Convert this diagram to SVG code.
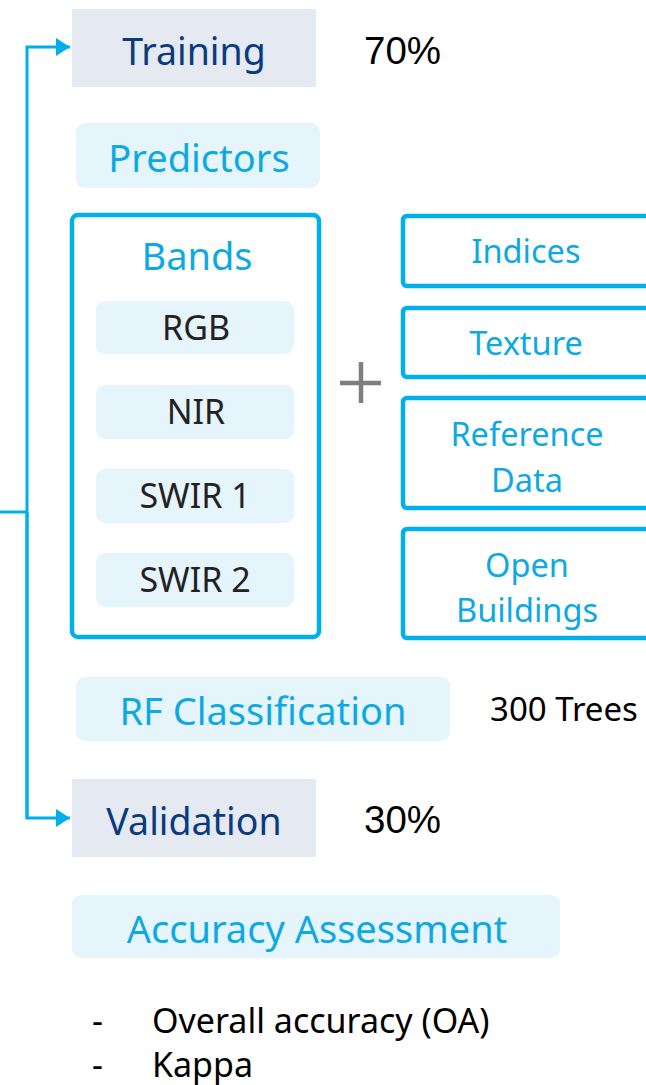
<svg xmlns="http://www.w3.org/2000/svg" width="646" height="1085" viewBox="0 0 646 1085">
<defs>
<style>
.t{font-family:"Noto Sans","Open Sans",sans-serif;}
.navy{fill:#0B3A7E;font-size:37.5px;}
.blue{fill:#0DA9E3;font-size:38px;}
.blue2{fill:#0DA9E3;font-size:32.5px;}
.dark{fill:#222;font-size:34px;}
.blk{fill:#000;font-size:34px;}
.gray{fill:#E5EAF2;}
.pale{fill:#E6F4FC;}
.ob{fill:#fff;stroke:#00B0EA;stroke-width:4.5;}
.conn{stroke:#00AEEA;stroke-width:3;fill:none;}
</style>
<marker id="ah" markerWidth="14" markerHeight="18" refX="14" refY="9" orient="auto" markerUnits="userSpaceOnUse">
<path d="M0,0 L14,9 L0,18 Z" fill="#00AEEA"/>
</marker>
</defs>
<rect width="646" height="1085" fill="#fff"/>
<g id="connectors">
<path class="conn" d="M27,818 L27,47 L70,47" marker-end="url(#ah)"/>
<path class="conn" d="M27,512 L27,818 L70,818" marker-end="url(#ah)"/>
<path class="conn" d="M0,512 L27,512"/>
</g>
<g id="training">
<rect class="gray" x="72" y="9" width="244" height="78"/>
<text class="t navy" x="194" y="65" text-anchor="middle">Training</text>
</g>
<g id="pct70"><text x="364" y="64" font-family="Liberation Sans,Arial,sans-serif" font-size="38.5" fill="#000">70%</text></g>
<g id="predictors">
<rect class="pale" x="76" y="123" width="244" height="65" rx="9"/>
<text class="t blue" x="199" y="172" text-anchor="middle">Predictors</text>
</g>
<g id="bands">
<rect class="ob" x="72" y="215" width="247" height="422" rx="6"/>
<text class="t blue" x="197" y="270" text-anchor="middle">Bands</text>
</g>
<g id="rgb"><rect class="pale" x="96" y="301" width="198" height="53" rx="9"/><text class="t dark" x="196" y="340" text-anchor="middle">RGB</text></g>
<g id="nir"><rect class="pale" x="96" y="385" width="198" height="54" rx="9"/><text class="t dark" x="196" y="424" text-anchor="middle">NIR</text></g>
<g id="swir1"><rect class="pale" x="96" y="469" width="198" height="54" rx="9"/><text class="t dark" x="195" y="508" text-anchor="middle">SWIR 1</text></g>
<g id="swir2"><rect class="pale" x="96" y="553" width="198" height="54" rx="9"/><text class="t dark" x="195" y="592" text-anchor="middle">SWIR 2</text></g>
<g id="plus"><path d="M340,383 L381,383 M361,362 L361,403" stroke="#7F7F7F" stroke-width="4.5"/></g>
<g id="indices"><rect class="ob" x="403" y="216" width="250" height="70" rx="4"/><text class="t blue2" x="526" y="263" text-anchor="middle">Indices</text></g>
<g id="texture"><rect class="ob" x="403" y="308" width="250" height="69" rx="4"/><text class="t blue2" x="526" y="355" text-anchor="middle">Texture</text></g>
<g id="reference"><rect class="ob" x="403" y="398" width="250" height="110" rx="4"/><text class="t blue2" x="527" y="446" text-anchor="middle">Reference</text><text class="t blue2" x="527" y="492" text-anchor="middle">Data</text></g>
<g id="openbuildings"><rect class="ob" x="403" y="529" width="250" height="109" rx="4"/><text class="t blue2" x="527" y="577" text-anchor="middle">Open</text><text class="t blue2" x="527" y="622" text-anchor="middle">Buildings</text></g>
<g id="rf">
<rect class="pale" x="76" y="677" width="374" height="64" rx="9"/>
<text class="t blue" x="263" y="725" text-anchor="middle">RF Classification</text>
</g>
<g id="trees"><text class="t blk" x="490" y="721" font-size="33" style="font-size:33px">300 Trees</text></g>
<g id="validation">
<rect class="gray" x="72" y="779" width="244" height="78"/>
<text class="t navy" x="194" y="835" text-anchor="middle">Validation</text>
</g>
<g id="pct30"><text x="364" y="833" font-family="Liberation Sans,Arial,sans-serif" font-size="38.5" fill="#000">30%</text></g>
<g id="accuracy">
<rect class="pale" x="72" y="895" width="488" height="63" rx="9"/>
<text class="t blue" x="317" y="943" text-anchor="middle">Accuracy Assessment</text>
</g>
<g id="metrics">
<text class="t blk" x="92" y="1033">-</text>
<text class="t blk" x="152" y="1033">Overall accuracy (OA)</text>
<text class="t blk" x="92" y="1077">-</text>
<text class="t blk" x="152" y="1077">Kappa</text>
</g>
</svg>
